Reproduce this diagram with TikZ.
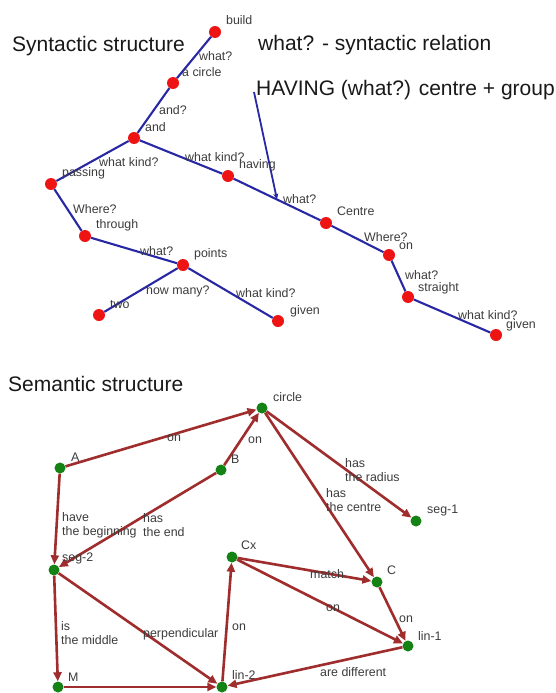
\documentclass[tikz,border=0pt]{standalone}
\usepackage{fontspec}
\setmainfont{Liberation Sans}
\usetikzlibrary{arrows.meta}

\definecolor{treeblue}{RGB}{40,40,165}
\definecolor{treered}{RGB}{238,20,20}
\definecolor{semred}{RGB}{160,45,45}
\definecolor{semgreen}{RGB}{20,130,20}
\definecolor{labelgray}{RGB}{60,60,60}
\definecolor{titlegray}{RGB}{25,25,25}

\begin{document}
\begin{tikzpicture}[x=1pt,y=-1pt,
  word/.style={inner sep=0pt, anchor=west, text=labelgray,
    font=\fontsize{12.4}{14}\selectfont, align=left},
  title/.style={inner sep=0pt, anchor=west, text=titlegray,
    font=\fontsize{21}{24}\selectfont},
  rdot/.style={circle, fill=treered, minimum size=12pt, inner sep=0pt},
  gdot/.style={circle, fill=semgreen, minimum size=11pt, inner sep=0pt},
  tree/.style={draw=treeblue, line width=2.1pt},
  rel/.style={draw=semred, line width=2.6pt,
    -{Triangle[length=9pt,width=8pt]}},
]
\fill[white] (0,0) rectangle (555,693);
\clip (0,0) rectangle (555,693);

% ---------- syntactic structure ----------
\node[title] (tsyn) at (12,46) {Syntactic structure};
\node[title] (tkey) at (258,45) {what? - syntactic relation};
\node[title] (thav) at (256,90) {HAVING (what?) centre + group};

\node[rdot] (build) at (215,32) {};
\node[rdot] (acirc) at (173,83) {};
\node[rdot] (and) at (134,138) {};
\node[rdot] (passing) at (51,184) {};
\node[rdot] (through) at (85,236) {};
\node[rdot] (points) at (183,265) {};
\node[rdot] (two) at (99,315) {};
\node[rdot] (givenA) at (278,321) {};
\node[rdot] (having) at (228,176) {};
\node[rdot] (centre) at (326,223) {};
\node[rdot] (on) at (389,255) {};
\node[rdot] (straight) at (408,297) {};
\node[rdot] (givenB) at (496,335) {};
\coordinate (hvtop) at (254,92);
\coordinate (junction) at (277,199.5);

\draw[tree] (build) -- (acirc);
\draw[tree] (acirc) -- (and);
\draw[tree] (and) -- (passing);
\draw[tree] (passing) -- (through);
\draw[tree] (through) -- (points);
\draw[tree] (points) -- (two);
\draw[tree] (points) -- (givenA);
\draw[tree] (and) -- (having);
\draw[tree] (having) -- (centre);
\draw[tree] (centre) -- (on);
\draw[tree] (on) -- (straight);
\draw[tree] (straight) -- (givenB);
\draw[tree, line width=1.8pt, -{Stealth[length=6pt,width=5pt]}] (hvtop) -- (junction);

\node[word] (lbuild) at (226,20) {build};
\node[word] (lq1) at (199,56) {what?};
\node[word] (lacirc) at (182,72) {a circle};
\node[word] (lq2) at (159,110) {and?};
\node[word] (land) at (145,127) {and};
\node[word] (lq3) at (99,162) {what kind?};
\node[word] (lpassing) at (62,173) {passing};
\node[word] (lq4) at (185,157) {what kind?};
\node[word] (lhaving) at (239,165) {having};
\node[word] (lq5) at (73,209) {Where?};
\node[word] (lthrough) at (96,225) {through};
\node[word] (lq6) at (140,251) {what?};
\node[word] (lpoints) at (194,254) {points};
\node[word] (lq7) at (146,291) {how many?};
\node[word] (ltwo) at (110,305) {two};
\node[word] (lq8) at (236,293) {what kind?};
\node[word] (lgivenA) at (290,311) {given};
\node[word] (lq9) at (283,199) {what?};
\node[word] (lcentre) at (337,211) {Centre};
\node[word] (lq10) at (364,237) {Where?};
\node[word] (lon) at (399,246) {on};
\node[word] (lq11) at (405,275) {what?};
\node[word] (lstraight) at (418,288) {straight};
\node[word] (lq12) at (458,315) {what kind?};
\node[word] (lgivenB) at (506,325) {given};

% ---------- semantic structure ----------
\node[title] (tsem) at (8,384) {Semantic structure};

\node[gdot] (circle) at (262,408) {};
\node[gdot] (A) at (60,468) {};
\node[gdot] (B) at (221,470) {};
\node[gdot] (seg1) at (416,521) {};
\node[gdot] (seg2) at (54,570) {};
\node[gdot] (Cx) at (232,557) {};
\node[gdot] (C) at (377,582) {};
\node[gdot] (lin1) at (408,646) {};
\node[gdot] (M) at (58,687) {};
\node[gdot] (lin2) at (222,687) {};

\draw[rel] (A) -- (circle);
\draw[rel] (B) -- (circle);
\draw[rel] (circle) -- (seg1);
\draw[rel] (circle) -- (C);
\draw[rel] (A) -- (seg2);
\draw[rel] (B) -- (seg2);
\draw[rel] (seg2) -- (M);
\draw[rel] (seg2) -- (lin2);
\draw[rel] (M) -- (lin2);
\draw[rel] (lin2) -- (Cx);
\draw[rel] (Cx) -- (C);
\draw[rel] (Cx) -- (lin1);
\draw[rel] (C) -- (lin1);
\draw[rel] (lin1) -- (lin2);

\node[word] (ncircle) at (273,397) {circle};
\node[word] (nA) at (71,457) {A};
\node[word] (nB) at (231,459) {B};
\node[word] (nseg1) at (427,511) {seg-1};
\node[word] (nseg2) at (62,558) {seg-2};
\node[word] (nCx) at (241,545) {Cx};
\node[word] (nC) at (387,570) {C};
\node[word] (nlin1) at (418,636) {lin-1};
\node[word] (nM) at (68,677) {M};
\node[word] (nlin2) at (232,675) {lin-2};

\node[word] (r1) at (167,438) {on};
\node[word] (r2) at (248,440) {on};
\node[word] (r3) at (345,470) {has\\the radius};
\node[word] (r4) at (326,500) {has\\the centre};
\node[word] (r5) at (62,525) {have\\the beginning};
\node[word] (r6) at (143,525) {has\\the end};
\node[word] (r7) at (61,633) {is\\the middle};
\node[word] (r8) at (143,634) {perpendicular};
\node[word] (r9) at (232,627) {on};
\node[word] (r10) at (310,574) {match};
\node[word] (r11) at (326,608) {on};
\node[word] (r12) at (399,619) {on};
\node[word] (r13) at (320,672) {are different};
\node[word] (r14) at (145,697) {on};
\end{tikzpicture}
\end{document}
